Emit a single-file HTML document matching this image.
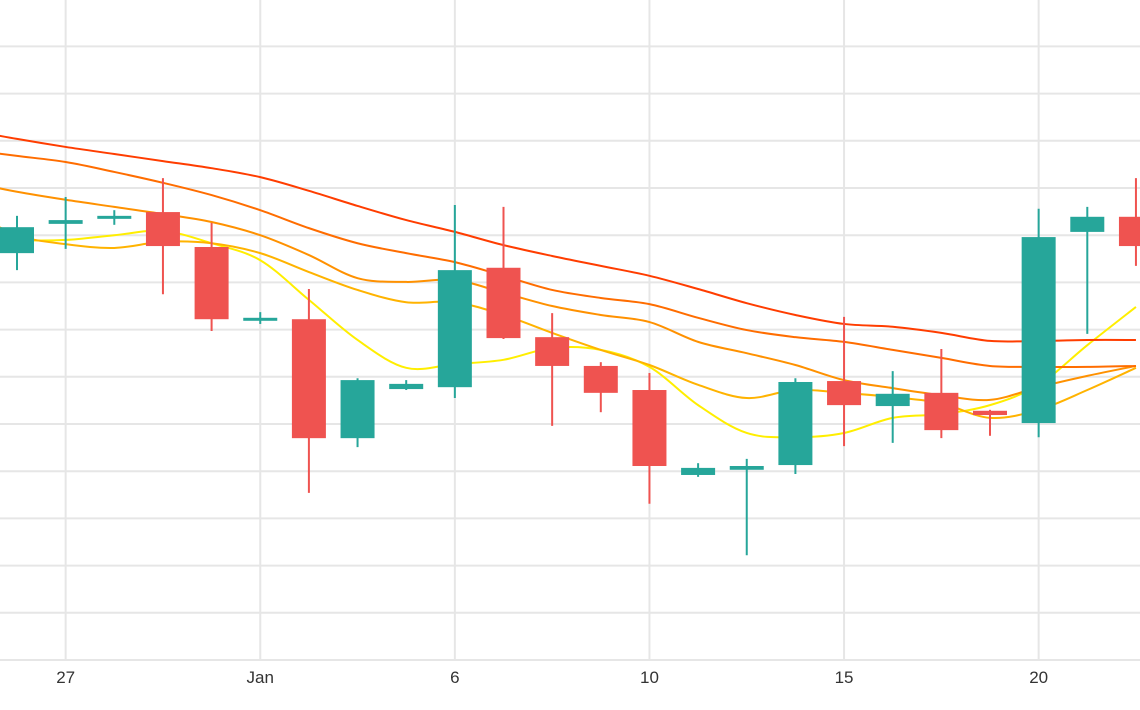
<!DOCTYPE html>
<html><head><meta charset="utf-8"><style>
html,body{margin:0;padding:0;background:#fff;}
svg{display:block;font-family:"Liberation Sans",sans-serif;}
</style></head><body>
<svg id="chart" width="1140" height="710" viewBox="0 0 1140 710" xmlns="http://www.w3.org/2000/svg">
<g id="grid"></g>
<g id="mas"></g>
<g id="candles"></g>
<g id="xaxis"></g>
</svg>
<script>
const opens  = [86.2,92.4,93.6,94.9,87.5,72.2,72.2,47.0,57.4,57.8,83.1,68.4,62.3,57.2,39.2,40.3,41.3,59.1,53.8,56.6,52.8,50.2,90.7,93.9];
const closes = [91.7,93.2,94.1,87.7,72.2,72.5,47.0,59.3,58.5,82.6,68.2,62.3,56.6,41.1,40.7,41.1,58.9,54.0,56.4,48.7,51.9,89.6,93.9,87.7];
const highs  = [94.1,98.1,95.3,102.1,92.6,73.7,78.6,59.7,59.3,96.4,96.0,73.5,63.1,60.8,41.7,42.6,59.7,72.7,61.2,65.9,53.0,95.6,96.0,102.1];
const lows   = [82.6,87.1,92.2,77.5,69.7,71.2,35.4,45.1,57.2,55.5,68.0,49.6,52.5,33.1,38.8,22.2,39.4,45.3,46.0,47.0,47.5,47.2,69.1,83.5];
// moving averages, indices -1..23
const ma1 = [112.3,110.4,108.7,107.2,105.7,104.2,102.3,99.4,96.2,93.2,90.7,87.9,85.6,83.5,81.4,78.6,75.6,73.1,71.2,70.6,69.3,67.6,67.6,67.8,67.8];
const ma2 = [108.1,106.8,105.5,103.4,101.1,98.5,95.3,91.5,88.3,86.2,84.3,81.4,78.4,76.7,75.4,72.5,69.9,68.4,67.4,65.7,64.0,62.3,62.1,62.1,62.3];
const ma3 = [101.3,99.2,97.5,96.0,94.5,92.8,90.0,85.8,80.9,80.1,80.5,77.8,75.0,73.1,71.6,67.4,65.0,62.5,59.3,57.6,56.1,55.1,57.8,60.2,62.3];
const ma4 = [95.3,90.0,88.1,87.3,88.6,88.3,86.2,82.2,78.4,75.8,75.8,73.1,69.3,65.7,62.5,58.3,55.5,57.2,56.6,55.7,54.4,51.3,53.0,57.2,61.9];
const ma5 = [90.0,89.0,89.0,90.0,90.9,88.3,84.7,76.3,67.8,61.9,62.7,63.6,66.1,65.7,62.1,54.0,48.1,47.2,48.1,51.3,52.1,54.0,58.3,66.7,74.8];
const tickLabels = ["27","Jan","6","10","15","20"];
const tickIndex = [1,5,9,13,17,21];
const yTicks = [10,20,30,40,50,60,70,80,90,100,110,120,130];

const NS="http://www.w3.org/2000/svg";
const x = i => 17 + i*48.65;
const y = p => 660 - p*4.72;
function mk(tag, attrs, parent){const e=document.createElementNS(NS,tag);for(const k in attrs)e.setAttribute(k,attrs[k]);parent.appendChild(e);return e;}
const grid=document.getElementById('grid');
yTicks.forEach(v=>{
  const l=mk('line',{x1:0,x2:1140,y1:y(v),y2:y(v),stroke:'#e6e6e6','stroke-width':2},grid);
  
  
});
tickIndex.forEach(i=>{
  const l=mk('line',{x1:x(i),x2:x(i),y1:0,y2:660,stroke:'#e6e6e6','stroke-width':2},grid);
  
  
});
const base=mk('line',{x1:0,x2:1140,y1:660,y2:660,stroke:'#e6e6e6','stroke-width':2},grid);



function smooth(pts){
  let d=`M${pts[0][0]},${pts[0][1]}`;
  for(let i=0;i<pts.length-1;i++){
    const p0=pts[Math.max(0,i-1)],p1=pts[i],p2=pts[i+1],p3=pts[Math.min(pts.length-1,i+2)];
    const c1x=p1[0]+(p2[0]-p0[0])/6,c1y=p1[1]+(p2[1]-p0[1])/6;
    const c2x=p2[0]-(p3[0]-p1[0])/6,c2y=p2[1]-(p3[1]-p1[1])/6;
    d+=` C${c1x},${c1y} ${c2x},${c2y} ${p2[0]},${p2[1]}`;
  }
  return d;
}
const mas=document.getElementById('mas');
const maSets=[[ma5,'#ffee00','ma-yellow'],[ma4,'#ffb300','ma-amber'],[ma3,'#ff9100','ma-orange'],[ma2,'#ff6d00','ma-dark-orange'],[ma1,'#ff3d00','ma-red']];
maSets.forEach(([arr,col,name])=>{
  const pts=arr.map((v,k)=>[x(k-1),y(v)]);
  const p=mk('path',{d:smooth(pts),fill:'none',stroke:col,'stroke-width':2},mas);
  
  
});
const cg=document.getElementById('candles');
opens.forEach((o,i)=>{
  const c=closes[i],up=c>=o,col=up?'#26a69a':'#ef5350';
  const g=mk('g',{},cg);
  
  
  mk('line',{x1:x(i),x2:x(i),y1:y(highs[i]),y2:y(lows[i]),stroke:col,'stroke-width':2},g);
  const top=y(Math.max(o,c)),h=Math.max(3,Math.abs(y(o)-y(c)));
  mk('rect',{x:x(i)-17,y:top,width:34,height:h,fill:col},g);
});
const xa=document.getElementById('xaxis');
tickLabels.forEach((t,k)=>{
  const e=mk('text',{x:x(tickIndex[k]),y:683,'text-anchor':'middle','font-size':17,fill:'#333'},xa);
  e.textContent=t;
  
  
});
</script>
</body></html>
